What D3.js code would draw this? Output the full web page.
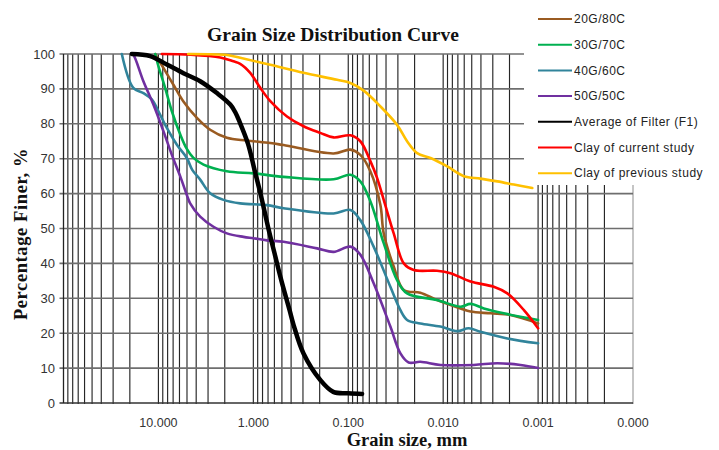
<!DOCTYPE html>
<html>
<head>
<meta charset="utf-8">
<script src="https://cdn.jsdelivr.net/npm/d3@7"></script>
<style>
  html, body { margin: 0; padding: 0; background: #fff; }
  svg { display: block; }
</style>
</head>
<body>
<svg id="chart" width="719" height="450"></svg>
<script>
// Grain size (mm) vs. percentage finer (%), one array per sample
const seriesNames = ["20G/80C", "30G/70C", "40G/60C", "50G/50C",
                     "Average of Filter (F1)", "Clay of current study", "Clay of previous study"];
const seriesColors = ["#9a5b21", "#00b050", "#31849b", "#7030a0", "#000000", "#ff0000", "#ffc000"];

const g20c80 = [[10.8,100],[8.86,96],[6.95,91.2],[5.45,86.4],[3.93,81.7],[2.85,78.3],[1.90,76],
  [1.168,75.2],[0.663,74.5],[0.48,73.9],[0.1426,71.5],[0.095,72.6],[0.0746,71.1],[0.0585,66.4],
  [0.0459,56.8],[0.0423,48.6],[0.0332,39.1],[0.026,32.4],[0.0174,31.6],[0.0116,29.5],
  [0.00657,27.1],[0.00515,26.2],[0.00317,25.7],[0.00195,25.2],[0.001,22.8]];
const g30c70 = [[10.8,100],[10,96.5],[8.5,90.3],[7.22,83.6],[5.9,77],[5.02,72.8],[4.3,70.3],
  [3.35,68.3],[1.90,66.4],[0.995,65.8],[0.48,64.8],[0.1426,64.1],[0.095,65.4],[0.0746,63.5],
  [0.0585,57.8],[0.0423,45.8],[0.0306,35.2],[0.024,31.4],[0.0116,29.5],[0.00657,27.6],
  [0.00515,28.4],[0.00373,27.1],[0.0023,25.7],[0.001,23.8]];
const g40c60 = [[24.3,100],[18.4,90.3],[14.4,88.8],[11.74,87],[10,83.6],[8.15,78.8],[6.39,74],
  [5.02,70.2],[4.4,66.8],[3.63,64],[2.85,60.1],[2.06,58.2],[1.375,57.2],[0.719,56.7],[0.48,55.8],
  [0.1426,54.3],[0.095,55.3],[0.0746,52.4],[0.054,44.8],[0.036,33.3],[0.0282,26.6],[0.024,23.8],
  [0.0174,22.8],[0.0107,21.9],[0.00712,20.6],[0.00537,21.4],[0.00404,20.4],[0.00211,18.5],[0.001,17.1]];
const g50c50 = [[19.1,100],[18.4,99.8],[14.4,92.2],[11.3,85.5],[8.86,77.9],[7.22,71.1],[5.90,65],
  [5.02,59.6],[4.63,57.2],[3.63,53.4],[2.63,50.5],[1.90,48.6],[1.27,47.6],[0.995,47.2],[0.719,46.6],
  [0.48,46.2],[0.213,44.3],[0.1426,43.3],[0.095,44.8],[0.0746,42.5],[0.054,34.3],[0.036,21.9],
  [0.0282,14.2],[0.0231,11.6],[0.0174,11.8],[0.0107,10.9],[0.00476,10.9],[0.00269,11.4],
  [0.00153,10.9],[0.001,10]];
const filterF1 = [[19.1,100],[12.2,99.4],[8.15,97],[5.45,94.5],[3.63,92.2],[2.42,88.8],[1.75,85.5],
  [1.55,83.3],[1.398,80.6],[1.14,74.3],[0.972,66.8],[0.826,59.1],[0.701,50.5],[0.598,42.9],
  [0.508,35.2],[0.415,26.6],[0.377,22.4],[0.296,14.2],[0.197,6.6],[0.144,3.2],[0.099,2.8],[0.0715,2.6]];
const clayCurrent = [[9.21,100],[4.63,99.8],[2.23,99],[1.62,97.9],[1.375,97.2],[1.078,94.6],
  [0.845,90.3],[0.663,86.5],[0.442,82.1],[0.296,79.3],[0.197,77.4],[0.1426,76.1],[0.095,76.7],
  [0.0746,75],[0.0585,69.3],[0.0497,64.5],[0.0423,58.2],[0.0332,48.6],[0.026,40],[0.0204,38.1],
  [0.0116,37.9],[0.00838,37.2],[0.00515,34.8],[0.00293,33.3],[0.00211,31.4],[0.00141,26.6],[0.001,21.4]];
const clayPrevious = [[4.86,100],[1.90,99.7],[1.375,98.9],[0.663,96.9],[0.296,94.6],[0.131,92.6],
  [0.095,91.7],[0.0688,89.5],[0.0459,85],[0.0306,79.7],[0.024,75],[0.0188,71.6],[0.0136,70.2],
  [0.00907,67.8],[0.00606,65],[0.00404,64.3],[0.00269,63.5],[0.0018,62.6],[0.00115,61.6]];

const seriesData = [g20c80, g30c70, g40c60, g50c50, filterF1, clayCurrent, clayPrevious];

const xTickValues = [10, 1, 0.1, 0.01, 0.001, 0.0001];
const yTickValues = [0, 10, 20, 30, 40, 50, 60, 70, 80, 90, 100];

const svg = d3.select("#chart");
const plotLeft = 63.5, plotRight = 633, plotTop = 54, plotBottom = 403;

const x = d3.scaleLog().domain([100, 0.0001]).range([plotLeft, plotRight]);
const y = d3.scaleLinear().domain([0, 100]).range([plotBottom, plotTop]);

// vertical log grid: 1..9 x 10^k for every decade
const gridX = [];
for (let k = 2; k >= -4; k--) {
  for (let m = 9; m >= 1; m--) {
    const v = m * Math.pow(10, k - 1);
    if (v <= 100 * 1.0001 && v >= 0.0001 * 0.9999) gridX.push(v);
  }
}
svg.append("g").selectAll("line").data(gridX).join("line")
  .attr("x1", d => x(d)).attr("x2", d => x(d))
  .attr("y1", plotTop).attr("y2", plotBottom + 1)
  .attr("stroke", d => Math.abs(x(d) - plotRight) < 1 ? "#9a9a9a" : "#262626")
  .attr("stroke-width", 1.15);

// horizontal grid
svg.append("g").selectAll("line").data(yTickValues).join("line")
  .attr("x1", plotLeft - 4).attr("x2", plotRight)
  .attr("y1", d => y(d)).attr("y2", d => y(d))
  .attr("stroke", d => d === 0 ? "#333" : "#6e6e6e")
  .attr("stroke-width", 1.6);

// y axis line
svg.append("line").attr("x1", plotLeft).attr("x2", plotLeft).attr("y1", plotTop).attr("y2", plotBottom)
  .attr("stroke", "#222").attr("stroke-width", 1.3);

// y tick labels
svg.append("g").selectAll("text").data(yTickValues).join("text")
  .attr("x", 55).attr("y", d => y(d)).attr("dy", "0.35em")
  .attr("text-anchor", "end")
  .attr("font-family", "Liberation Sans, Arial, sans-serif")
  .attr("font-size", 13).attr("fill", "#333")
  .text(d => d);

// x tick labels
svg.append("g").selectAll("text").data(xTickValues).join("text")
  .attr("x", d => x(d)).attr("y", 426.5)
  .attr("text-anchor", "middle")
  .attr("font-family", "Liberation Sans, Arial, sans-serif")
  .attr("font-size", 12.5).attr("fill", "#333")
  .text(d => d.toFixed(3));

// smoothed curves
const line = d3.line()
  .x(d => x(d[0])).y(d => y(d[1]))
  .curve(d3.curveCatmullRom.alpha(0.5));

svg.append("g").selectAll("path").data(seriesData).join("path")
  .attr("d", d => line(d))
  .attr("fill", "none")
  .attr("stroke", (d, i) => seriesColors[i])
  .attr("stroke-width", (d, i) => i === 4 ? 4.5 : 2.6)
  .attr("stroke-linejoin", "round")
  .attr("stroke-linecap", "round");

// legend, drawn on an opaque box over the grid
const legend = svg.append("g");
legend.append("rect").attr("x", 524).attr("y", 0).attr("width", 195).attr("height", 185)
  .attr("fill", "#fff");
const rows = legend.selectAll("g").data(seriesNames).join("g")
  .attr("transform", (d, i) => `translate(0, ${19 + i * 25.7})`);
rows.append("line").attr("x1", 538).attr("x2", 572).attr("y1", 0).attr("y2", 0)
  .attr("stroke", (d, i) => seriesColors[i]).attr("stroke-width", 2);
rows.append("text").attr("x", 574).attr("y", 0).attr("dy", "0.35em")
  .attr("font-family", "Liberation Sans, Arial, sans-serif")
  .attr("font-size", 12).attr("letter-spacing", 0.5).attr("fill", "#222")
  .text(d => d);

// titles
svg.append("text").attr("x", 333).attr("y", 41).attr("text-anchor", "middle")
  .attr("font-family", "Liberation Serif, Times New Roman, serif")
  .attr("font-weight", "bold").attr("font-size", 19.5).attr("fill", "#111")
  .text("Grain Size Distribution Curve");

svg.append("text").attr("x", 407).attr("y", 445.5).attr("text-anchor", "middle")
  .attr("font-family", "Liberation Serif, Times New Roman, serif")
  .attr("font-weight", "bold").attr("font-size", 18.5).attr("fill", "#111")
  .text("Grain size, mm");

svg.append("text")
  .attr("transform", "translate(27, 234) rotate(-90)")
  .attr("text-anchor", "middle")
  .attr("font-family", "Liberation Serif, Times New Roman, serif")
  .attr("font-weight", "bold").attr("font-size", 18.5).attr("letter-spacing", 0.6).attr("fill", "#111")
  .text("Percentage Finer, %");
</script>
</body>
</html>
